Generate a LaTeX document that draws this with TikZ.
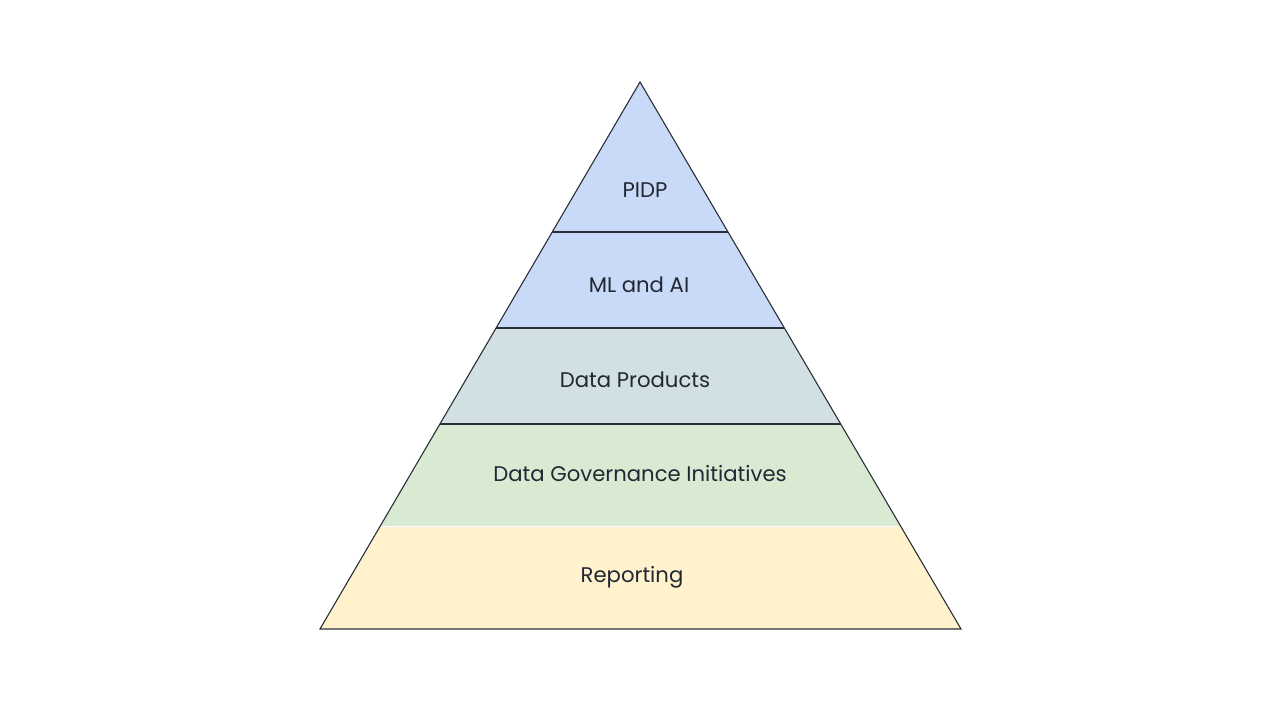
\documentclass[tikz,border=0pt]{standalone}
\usepackage{fontspec}
\setmainfont{Poppins}
\usetikzlibrary{calc}
\definecolor{lblue}{HTML}{C9DAF8}
\definecolor{lcyan}{HTML}{D0E0E3}
\definecolor{lgreen}{HTML}{D9EAD3}
\definecolor{lyellow}{HTML}{FFF2CC}
\definecolor{edge}{HTML}{2B2F36}
\definecolor{txt}{HTML}{222733}
\begin{document}
\begin{tikzpicture}[x=1pt,y=-1pt,
  lbl/.style={font=\fontsize{21.2}{24}\selectfont, text=txt, inner sep=0pt},
  rim/.style={draw=edge, line width=1.1pt, line join=miter}]
\useasboundingbox (0,0) rectangle (1280,720);
\coordinate (T) at (640,82);
\coordinate (L) at (320,629);
\coordinate (R) at (961,629);
\foreach \n/\t in {a/0.27422,b/0.44973,c/0.62523,d/0.81170}{
  \coordinate (L\n) at ($(T)!\t!(L)$);
  \coordinate (R\n) at ($(T)!\t!(R)$);
}
\fill[lblue] (T) -- (Ra) -- (La) -- cycle;
\fill[lblue] (La) -- (Ra) -- (Rb) -- (Lb) -- cycle;
\fill[lcyan] (Lb) -- (Rb) -- (Rc) -- (Lc) -- cycle;
\fill[lgreen] (Lc) -- (Rc) -- (Rd) -- (Ld) -- cycle;
\fill[lyellow] (Ld) -- (Rd) -- (R) -- (L) -- cycle;
\draw[rim] (La) -- (Ra);
\draw[rim] (Lb) -- (Rb);
\draw[rim] (Lc) -- (Rc);
\draw[white!85!lgreen, line width=0.6pt] (Ld) -- (Rd);
\draw[rim] (T) -- (R) -- (L) -- cycle;
\node[lbl] (pidp) at (645,190) {PIDP};
\node[lbl] (ml) at (639,285) {ML and AI};
\node[lbl] (dp) at (635,380) {Data Products};
\node[lbl] (dg) at (640,474) {Data Governance Initiatives};
\node[lbl] (rep) at (632,577) {Reporting};
\end{tikzpicture}
\end{document}
